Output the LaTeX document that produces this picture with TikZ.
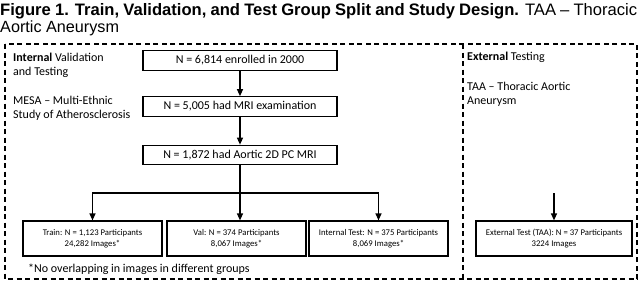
\documentclass[tikz,border=0pt]{standalone}
\usepackage{fontspec}
\setmainfont{Carlito}
\newfontfamily\arialf{Liberation Sans}
\usetikzlibrary{arrows.meta}
\begin{document}
\begin{tikzpicture}[x=1pt,y=-1pt,
  box/.style={draw=black,line width=1.2pt,minimum width=194pt,minimum height=19.5pt,inner sep=0pt,font=\fontsize{12}{14}\selectfont},
  sbox/.style={draw=black,line width=1.2pt,minimum width=139pt,minimum height=35pt,inner sep=0pt,align=center,font=\fontsize{8.7}{11}\selectfont},
  lbl/.style={anchor=west,align=left,inner sep=0pt,font=\fontsize{12}{14}\selectfont},
  arr/.style={line width=1.2pt,-{Triangle[width=6pt,length=7pt]}},
  ln/.style={line width=1.2pt},
  dsh/.style={line width=1.2pt,dash pattern=on 5pt off 3.5pt}]
\useasboundingbox (0,0) rectangle (640,284);
% title
\node[anchor=base west,inner sep=0pt,font=\arialf\fontsize{16.6}{18}\selectfont] (t1) at (0,15.5)
  {\makebox[637pt][s]{\bfseries Figure 1. Train, Validation, and Test Group Split and Study Design.\mdseries{} TAA – Thoracic}};
\node[anchor=base west,inner sep=0pt,font=\arialf\fontsize{16.2}{18}\selectfont] (t2) at (0,32.5) {Aortic Aneurysm};
% dashed frames
\draw[dsh] (5,44) rectangle (637,279);
\draw[dsh] (463,44) -- (463,279);
% left labels
\node[lbl] (int) at (13,65) {\textbf{Internal} Validation\\and Testing};
\node[lbl] (mesa) at (13,108.5) {MESA – Multi-Ethnic\\Study of Atherosclerosis};
\node[lbl] (ext) at (467,57.5) {\textbf{External} Testing};
\node[lbl] (taa) at (467,94) {TAA – Thoracic Aortic\\Aneurysm};
% main boxes
\node[box] (b1) at (240,60.5) {N = 6,814 enrolled in 2000};
\node[box] (b2) at (240,106.5) {N = 5,005 had MRI examination};
\node[box] (b3) at (240,155) {N = 1,872 had Aortic 2D PC MRI};
% bottom boxes
\node[sbox] (train) at (92.5,238.5) {Train: N = 1,123 Participants\\24,282 Images*};
\node[sbox] (val) at (236.5,238.5) {Val: N = 374 Participants\\8,067 Images*};
\node[sbox] (itest) at (378.5,238.5) {Internal Test: N = 375 Participants\\8,069 Images*};
\node[sbox,minimum width=156pt] (etest) at (554,238.5) {External Test (TAA): N = 37 Participants\\3224 Images};
% connectors
\coordinate (split) at (240,193);
\coordinate (eTop) at (554,193);
\draw[arr] (b1) -- (b2);
\draw[arr] (b2) -- (b3);
\draw[ln] (b3.south) -- (split);
\draw[arr] (split) -| (train.north);
\draw[arr] (split) -| (itest.north);
\draw[arr] (split) -- (split |- val.north);
\draw[arr] (eTop) -- (etest.north);
% footnote
\node[lbl] (note) at (28,269.5) {*No overlapping in images in different groups};
\end{tikzpicture}
\end{document}
